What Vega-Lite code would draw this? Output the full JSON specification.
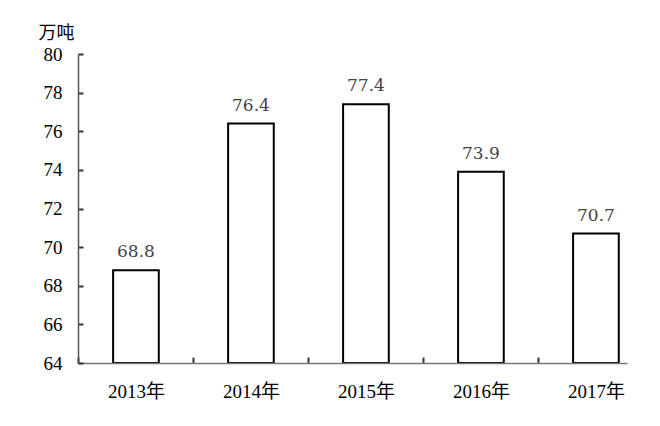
{
  "$schema": "https://vega.github.io/schema/vega-lite/v6.json",
  "autosize": "none",
  "padding": {"left": 78, "top": 54, "right": 33, "bottom": 63},
  "width": 549,
  "height": 309,
  "background": "white",
  "config": {"view": {"stroke": null}},
  "data": {"values": [
    {"year": "2013年", "value": 68.8},
    {"year": "2014年", "value": 76.4},
    {"year": "2015年", "value": 77.4},
    {"year": "2016年", "value": 73.9},
    {"year": "2017年", "value": 70.7}
  ]},
  "encoding": {
    "x": {
      "field": "year", "type": "nominal", "sort": null,
      "scale": {"paddingInner": 0.603, "paddingOuter": 0.1885, "align": 0.81},
      "axis": {
        "title": null, "labelAngle": 0, "labelFont": "Liberation Serif, Noto Sans CJK SC",
        "labelFontSize": 19, "labelColor": "#000", "labelPadding": 25,
        "ticks": true, "tickOffset": -57.5, "labelOffset": 57.5, "tickSize": -6, "tickColor": "#333", "tickWidth": 2,
        "domainColor": "#777", "domainWidth": 1.5, "grid": false, "zindex": 1
      }
    },
    "y": {
      "field": "value", "type": "quantitative",
      "scale": {"domain": [64, 80], "zero": false, "nice": false},
      "axis": {
        "values": [64, 66, 68, 70, 72, 74, 76, 78, 80],
        "title": "万吨", "titleAngle": 0, "titleAlign": "left", "titleBaseline": "bottom",
        "titleX": -40, "titleY": -12, "titleFont": "Noto Sans CJK SC", "titleFontSize": 18,
        "titleFontWeight": "normal", "titleColor": "#000",
        "labelFont": "Liberation Serif", "labelFontSize": 19, "labelColor": "#000",
        "labelPadding": 21, "ticks": true, "tickSize": -5, "tickColor": "#333", "tickWidth": 2,
        "domainColor": "#555", "domainWidth": 1.5, "grid": false, "zindex": 1
      }
    }
  },
  "layer": [
    {
      "mark": {"type": "bar", "fill": "white", "stroke": "#000", "strokeWidth": 2},
      "encoding": {"y2": {"datum": 64}}
    },
    {
      "mark": {"type": "text", "dy": -13, "baseline": "alphabetic", "font": "DejaVu Serif", "fontSize": 17, "color": "#444"},
      "encoding": {"text": {"field": "value", "type": "quantitative", "format": ".1f"}}
    }
  ]
}
